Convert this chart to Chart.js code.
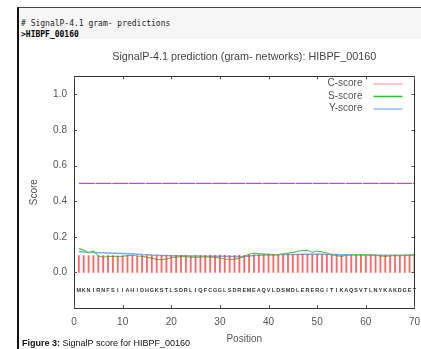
<!DOCTYPE html>
<html>
<head>
<meta charset="utf-8">
<script src="https://cdn.jsdelivr.net/npm/chart.js@4.4.1/dist/chart.umd.min.js"></script>
<style>
  body { margin: 0; width: 421px; height: 349px; overflow: hidden; background: #fff; position: relative; font-family: "Liberation Sans", Arial, sans-serif; }
  #frame { position: absolute; left: 17px; top: 7px; right: 0; bottom: 0; border-left: 2px solid #111; border-top: 1px solid #444; }
  #head { position: absolute; left: 0; top: 0; right: 0; height: 31px; background: #f6f6f6; font-family: "DejaVu Sans Mono", monospace; font-size: 8px; color: #222; padding: 10px 0 0 2px; box-sizing: border-box; line-height: 11px; }
  #head b { color: #000; }
  #chartBox { position: absolute; left: 20px; top: 40px; width: 408px; height: 309px; }
  #caption { position: absolute; left: 22px; top: 338px; font-size: 9px; color: #111; }
</style>
</head>
<body>
<div id="frame">
  <div id="head"># SignalP-4.1 gram- predictions<br><b>&gt;HIBPF_00160</b></div>
</div>
<div id="chartBox"><canvas id="signalChart" width="408" height="309"></canvas></div>
<div id="caption"><b>Figure 3:</b> SignalP score for HIBPF_00160</div>

<script>
// sequence and per-residue scores
const sequence = "MKNIRNFSIIAHIDHGKSTLSDRLIQFCGGLSDREMEAQVLDSMDLERERGITIKAQSVTLNYKAKDGET".split('');
const positions = sequence.map((aa, i) => i + 1);

const cScore = [
  0.094, 0.095, 0.094, 0.095, 0.093, 0.094, 0.095, 0.094, 0.093, 0.094,
  0.095, 0.094, 0.093, 0.094, 0.095, 0.094, 0.093, 0.094, 0.095, 0.094,
  0.094, 0.095, 0.094, 0.093, 0.094, 0.095, 0.096, 0.097, 0.096, 0.097,
  0.096, 0.095, 0.096, 0.097, 0.096, 0.098, 0.099, 0.1, 0.099, 0.1,
  0.1, 0.099, 0.1, 0.101, 0.1, 0.101, 0.102, 0.101, 0.1, 0.101,
  0.1, 0.099, 0.098, 0.097, 0.096, 0.096, 0.097, 0.096, 0.096, 0.095,
  0.096, 0.095, 0.096, 0.095, 0.095, 0.096, 0.095, 0.095, 0.096, 0.096
];
const sScore = [
  0.135, 0.125, 0.11, 0.12, 0.092, 0.085, 0.09, 0.09, 0.088, 0.09,
  0.094, 0.096, 0.092, 0.09, 0.086, 0.08, 0.073, 0.072, 0.076, 0.082,
  0.086, 0.088, 0.088, 0.086, 0.084, 0.086, 0.088, 0.086, 0.084, 0.08,
  0.075, 0.073, 0.074, 0.08, 0.09, 0.102, 0.108, 0.106, 0.104, 0.102,
  0.1, 0.1, 0.104, 0.108, 0.112, 0.118, 0.124, 0.124, 0.112, 0.12,
  0.115, 0.108, 0.1, 0.094, 0.09, 0.097, 0.098, 0.1, 0.1, 0.1,
  0.098, 0.096, 0.092, 0.09, 0.092, 0.095, 0.094, 0.096, 0.098, 0.1
];
const yScore = [
  0.118, 0.115, 0.113, 0.112, 0.11, 0.11, 0.109, 0.108, 0.107, 0.106,
  0.105, 0.104, 0.102, 0.1, 0.099, 0.097, 0.096, 0.095, 0.095, 0.094,
  0.094, 0.093, 0.093, 0.092, 0.092, 0.092, 0.091, 0.091, 0.09, 0.09,
  0.09, 0.089, 0.089, 0.089, 0.088, 0.092, 0.095, 0.096, 0.097, 0.098,
  0.098, 0.099, 0.1, 0.1, 0.101, 0.101, 0.102, 0.102, 0.102, 0.102,
  0.102, 0.101, 0.1, 0.1, 0.099, 0.099, 0.099, 0.098, 0.098, 0.098,
  0.097, 0.097, 0.096, 0.096, 0.096, 0.096, 0.096, 0.096, 0.096, 0.096
];
const cutoff = 0.5;

const xTickValues = [0, 10, 20, 30, 40, 50, 60, 70];
const yTickValues = [0, 0.2, 0.4, 0.6, 0.8, 1.0];

const toPoints = arr => arr.map((v, i) => ({ x: positions[i], y: v }));

// frame, inward ticks, legend and the sequence row
const framePlugin = {
  id: 'framePlugin',
  afterDatasetsDraw(chart) {
    const { ctx, chartArea: a, scales: { x, y } } = chart;
    ctx.save();
    ctx.strokeStyle = '#333';
    ctx.lineWidth = 1;
    ctx.strokeRect(Math.round(a.left) + 0.5, Math.round(a.top) + 0.5, Math.round(a.right - a.left), Math.round(a.bottom - a.top));
    ctx.strokeStyle = '#555';
    ctx.beginPath();
    yTickValues.forEach(v => {
      const py = Math.round(y.getPixelForValue(v)) + 0.5;
      ctx.moveTo(a.left, py); ctx.lineTo(a.left + 3, py);
      ctx.moveTo(a.right, py); ctx.lineTo(a.right - 3, py);
    });
    xTickValues.forEach(v => {
      const px = Math.round(x.getPixelForValue(v)) + 0.5;
      ctx.moveTo(px, a.bottom); ctx.lineTo(px, a.bottom - 3);
      ctx.moveTo(px, a.top); ctx.lineTo(px, a.top + 3);
    });
    ctx.stroke();

    // sequence letters under each position
    ctx.fillStyle = '#333';
    ctx.font = 'bold 5.5px "Liberation Sans", Arial, sans-serif';
    ctx.textAlign = 'center';
    ctx.textBaseline = 'middle';
    const seqY = y.getPixelForValue(-0.1);
    sequence.forEach((aa, i) => ctx.fillText(aa, x.getPixelForValue(positions[i]), seqY));

    // legend: right aligned label, line sample to its right
    ctx.font = '10px "Liberation Sans", Arial, sans-serif';
    ctx.textAlign = 'right';
    const legendSets = chart.data.datasets.filter(d => d.legendColor);
    legendSets.forEach((d, i) => {
      const ly = a.top + 7 + i * 12.5;
      ctx.fillStyle = '#555';
      ctx.fillText(d.label, a.right - 52, ly);
      ctx.strokeStyle = d.legendColor;
      ctx.lineWidth = 1.5;
      ctx.beginPath();
      ctx.moveTo(a.right - 41, ly + 0.5); ctx.lineTo(a.right - 12, ly + 0.5);
      ctx.stroke();
    });
    ctx.restore();
  }
};

new Chart(document.getElementById('signalChart'), {
  type: 'line',
  data: {
    datasets: [
      {
        type: 'line', label: 'cutoff',
        data: [{ x: positions[0], y: cutoff }, { x: positions[positions.length - 1], y: cutoff }],
        borderColor: '#b54fe0', borderWidth: 1.2, borderDash: [16, 0.7], pointRadius: 0
      },
      {
        type: 'bar', label: 'C-score', data: toPoints(cScore),
        backgroundColor: 'rgba(255,45,45,0.72)', barThickness: 1.2, legendColor: '#ffb3b3'
      },
      {
        type: 'line', label: 'S-score', data: toPoints(sScore),
        borderColor: '#5cc85c', borderWidth: 1.2, pointRadius: 0, legendColor: '#2ec42e'
      },
      {
        type: 'line', label: 'Y-score', data: toPoints(yScore),
        borderColor: '#72aef2', borderWidth: 1.5, pointRadius: 0, legendColor: '#8cc0ff'
      }
    ]
  },
  options: {
    responsive: false,
    animation: false,
    layout: { padding: { left: 0, right: 0, top: 0, bottom: 0 } },
    plugins: {
      legend: { display: false },
      tooltip: { enabled: false },
      title: {
        display: true,
        fullSize: false,
        text: 'SignalP-4.1 prediction (gram- networks): HIBPF_00160',
        color: '#444',
        font: { family: '"Liberation Sans", Arial, sans-serif', size: 10.8, weight: 'normal' },
        padding: { top: 11, bottom: 12.5 }
      }
    },
    scales: {
      x: {
        type: 'linear', min: 0, max: 70, offset: false,
        grid: { display: false, drawTicks: false },
        border: { display: false },
        afterBuildTicks: s => { s.ticks = xTickValues.map(v => ({ value: v })); },
        afterFit: s => { s.height = 41; },
        ticks: {
          color: '#555', padding: 8,
          font: { family: '"Liberation Sans", Arial, sans-serif', size: 10 },
          callback: v => String(v)
        },
        title: {
          display: true, text: 'Position', color: '#555',
          font: { family: '"Liberation Sans", Arial, sans-serif', size: 10 },
          padding: { top: 0, bottom: 4 }
        }
      },
      y: {
        min: -0.2, max: 1.1,
        grid: { display: false, drawTicks: false },
        border: { display: false },
        afterBuildTicks: s => { s.ticks = yTickValues.map(v => ({ value: v })); },
        afterFit: s => { s.width = 54; },
        ticks: {
          color: '#555', padding: 7,
          font: { family: '"Liberation Sans", Arial, sans-serif', size: 10 },
          callback: v => Number(v).toFixed(1)
        },
        title: {
          display: true, text: 'Score', color: '#555',
          font: { family: '"Liberation Sans", Arial, sans-serif', size: 10 },
          padding: { top: 8, bottom: 0 }
        }
      }
    }
  },
  plugins: [framePlugin]
});
</script>
</body>
</html>
